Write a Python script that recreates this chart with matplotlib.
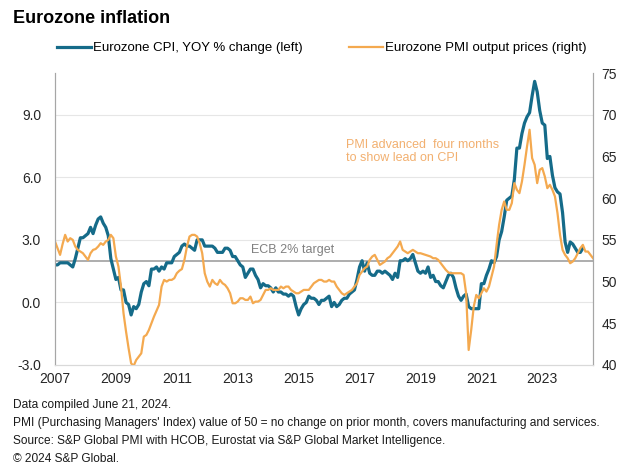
import numpy as np
import matplotlib
matplotlib.use("Agg")
import matplotlib.pyplot as plt
from matplotlib.lines import Line2D

plt.rcParams['font.family'] = ['Liberation Sans', 'DejaVu Sans']

# Eurozone CPI, YOY % change, monthly from Jan 2007 (left axis)
cpi = [
    1.8, 1.8, 1.9, 1.9, 1.9, 1.9, 1.8, 1.7, 2.1, 2.6, 3.1, 3.1,     # 2007
    3.2, 3.3, 3.6, 3.3, 3.7, 4.0, 4.1, 3.8, 3.6, 3.2, 2.1, 1.6,     # 2008
    1.1, 1.2, 0.6, 0.6, 0.0, -0.1, -0.6, -0.2, -0.3, -0.1, 0.5, 0.9,  # 2009
    1.0, 0.8, 1.6, 1.6, 1.7, 1.5, 1.7, 1.6, 1.9, 1.9, 1.9, 2.2,     # 2010
    2.3, 2.4, 2.7, 2.8, 2.7, 2.7, 2.6, 2.5, 3.0, 3.0, 3.0, 2.7,     # 2011
    2.7, 2.7, 2.7, 2.6, 2.4, 2.4, 2.4, 2.6, 2.6, 2.5, 2.2, 2.2,     # 2012
    2.0, 1.8, 1.7, 1.2, 1.4, 1.6, 1.6, 1.3, 1.1, 0.7, 0.9, 0.8,     # 2013
    0.8, 0.7, 0.5, 0.7, 0.5, 0.5, 0.4, 0.4, 0.3, 0.4, 0.3, -0.2,    # 2014
    -0.6, -0.3, -0.1, 0.0, 0.3, 0.2, 0.2, 0.1, -0.1, 0.1, 0.1, 0.2,  # 2015
    0.3, -0.2, 0.0, -0.2, -0.1, 0.1, 0.2, 0.2, 0.4, 0.5, 0.6, 1.1,  # 2016
    1.7, 2.0, 1.5, 1.9, 1.4, 1.3, 1.3, 1.5, 1.5, 1.4, 1.5, 1.4,     # 2017
    1.3, 1.1, 1.4, 1.2, 2.0, 2.0, 2.1, 2.0, 2.1, 2.3, 1.9, 1.5,     # 2018
    1.4, 1.5, 1.4, 1.7, 1.2, 1.3, 1.0, 1.0, 0.8, 0.7, 1.0, 1.3,     # 2019
    1.4, 1.2, 0.7, 0.3, 0.1, 0.3, 0.4, -0.2, -0.3, -0.3, -0.3, -0.3,  # 2020
    0.9, 0.9, 1.3, 1.6, 2.0, 1.9, 2.2, 3.0, 3.4, 4.1, 4.9, 5.0,     # 2021
    5.1, 5.9, 7.4, 7.4, 8.1, 8.6, 8.9, 9.1, 9.9, 10.6, 10.1, 9.2,   # 2022
    8.6, 8.5, 6.9, 7.0, 6.1, 5.5, 5.3, 5.2, 4.3, 2.9, 2.4, 2.9,     # 2023
    2.8, 2.6, 2.4, 2.4, 2.6,                                        # 2024
]

# Eurozone PMI output prices, advanced four months, plotted monthly from Jan 2007 (right axis)
pmi_advanced = [
    54.8, 54.0, 53.2, 54.5, 55.6, 54.8, 55.2, 55.0, 54.2, 53.8, 53.6, 53.4,  # 2007
    53.0, 52.6, 53.4, 53.8, 53.9, 54.2, 54.6, 54.4, 54.8, 55.0, 55.6, 55.2,  # 2008
    53.0, 51.8, 49.4, 46.2, 44.0, 42.0, 40.2, 39.9, 40.6, 41.0, 41.4, 43.4,  # 2009
    43.6, 44.2, 45.0, 45.8, 46.5, 47.2, 49.4, 50.2, 50.0, 50.2, 50.2, 50.4,  # 2010
    51.0, 51.3, 51.5, 52.6, 54.2, 55.4, 55.6, 55.6, 55.4, 54.6, 53.4, 51.0,  # 2011
    50.0, 49.4, 50.2, 49.8, 49.6, 50.2, 49.8, 49.6, 49.2, 48.6, 47.4, 47.4,  # 2012
    47.6, 48.0, 48.0, 47.8, 47.8, 48.2, 47.4, 47.6, 47.6, 47.8, 48.4, 49.0,  # 2013
    49.0, 49.2, 49.0, 49.0, 49.0, 49.4, 49.2, 49.4, 49.4, 49.0, 48.8, 48.6,  # 2014
    48.6, 48.8, 49.0, 49.0, 49.0, 49.4, 49.8, 50.0, 50.2, 50.2, 50.0, 50.0,  # 2015
    50.2, 50.0, 50.0, 49.4, 49.0, 48.6, 48.4, 48.6, 48.8, 49.0, 49.4, 49.8,  # 2016
    50.8, 51.2, 51.6, 51.8, 52.6, 53.0, 53.2, 52.6, 52.0, 52.2, 52.4, 52.8,  # 2017
    53.0, 53.4, 53.8, 54.2, 54.8, 53.8, 53.6, 53.4, 53.6, 53.8, 53.6, 53.4,  # 2018
    53.4, 53.3, 53.2, 53.1, 53.0, 52.8, 52.8, 52.6, 52.2, 51.8, 51.4, 51.1,  # 2019
    51.0, 51.0, 51.0, 51.0, 51.0, 50.8, 48.6, 41.8, 44.2, 47.0, 48.4, 48.0,  # 2020
    48.6, 49.2, 48.8, 49.4, 50.6, 51.8, 54.4, 56.8, 58.6, 59.6, 58.6, 58.6,  # 2021
    59.4, 61.8, 61.0, 60.6, 62.0, 64.0, 66.2, 68.2, 64.8, 64.0, 61.8, 63.4,  # 2022
    63.6, 62.6, 61.2, 61.6, 61.0, 60.2, 58.2, 55.6, 53.8, 53.2, 52.8, 52.2,  # 2023
    52.4, 52.8, 53.4, 54.0, 54.4, 53.6, 53.6, 53.2, 52.8,                    # 2024
]

year_ticks = [2007, 2009, 2011, 2013, 2015, 2017, 2019, 2021, 2023]

teal = "#156b89"
orange = "#f4a94f"

x_cpi = 2007 + np.arange(len(cpi)) / 12
x_pmi = 2007 + np.arange(len(pmi_advanced)) / 12

fig = plt.figure(figsize=(6.3, 4.76), dpi=100)
ax = fig.add_axes([0.0873, 0.2332, 0.8540, 0.6134])
ax2 = ax.twinx()

ax.set_ylim(-3, 11)
ax.set_yticks([-3, 0, 3, 6, 9])
ax.set_yticklabels(["-3.0", "0.0", "3.0", "6.0", "9.0"])
ax2.set_ylim(40, 75)
ax2.set_yticks(range(40, 80, 5))
ax.set_xlim(2007, 2007 + 212 / 12)
ax.set_xticks(year_ticks)
ax.set_xticklabels([str(y) for y in year_ticks])

for g in [0, 3, 6, 9]:
    ax.axhline(g, color="#e6e6e6", lw=0.8, zorder=0)
ax.axhline(2, color="#a0a0a0", lw=1.2, zorder=1)
ax.text(2013.45, 2.25, "ECB 2% target", color="#808080", fontsize=9, va="bottom")

ax.plot(x_cpi, cpi, color=teal, lw=2.3, zorder=3)
ax2.plot(x_pmi, pmi_advanced, color=orange, lw=1.6, zorder=2)

ax.text(2016.55, 7.85, "PMI advanced  four months\nto show lead on CPI",
        color="#f2b070", fontsize=9, va="top", linespacing=1.15)

for a in (ax, ax2):
    a.spines["top"].set_visible(False)
    a.spines["left"].set_color("#a6a6a6")
    a.spines["right"].set_color("#a6a6a6")
    a.spines["bottom"].set_color("#d9d9d9")
    a.tick_params(length=0, labelsize=10, colors="#262626")
ax.tick_params(axis="y", pad=10)
ax2.tick_params(axis="y", pad=6)
ax.tick_params(axis="x", pad=5)

handles = [Line2D([], [], color=teal, lw=2.3), Line2D([], [], color=orange, lw=1.6)]
fig.legend(handles, ["Eurozone CPI, YOY % change (left)", "Eurozone PMI output prices (right)"],
           loc="center", bbox_to_anchor=(0.511, 0.899), ncol=2, frameon=False,
           fontsize=9.5, handlelength=2.6, handletextpad=0.15, columnspacing=3.5)

fig.text(0.021, 0.962, "Eurozone inflation", fontsize=13, fontweight="bold", va="center")

notes = [
    "Data compiled June 21, 2024.",
    "PMI (Purchasing Managers' Index) value of 50 = no change on prior month, covers manufacturing and services.",
    "Source: S&P Global PMI with HCOB, Eurostat via S&P Global Market Intelligence.",
    "\u00a9 2024 S&P Global.",
]
for i, line in enumerate(notes):
    fig.text(0.021, 0.149 - i * 0.0375, line, fontsize=8.6, va="center", color="#1a1a1a")

fig.savefig("out.png", dpi=100)
